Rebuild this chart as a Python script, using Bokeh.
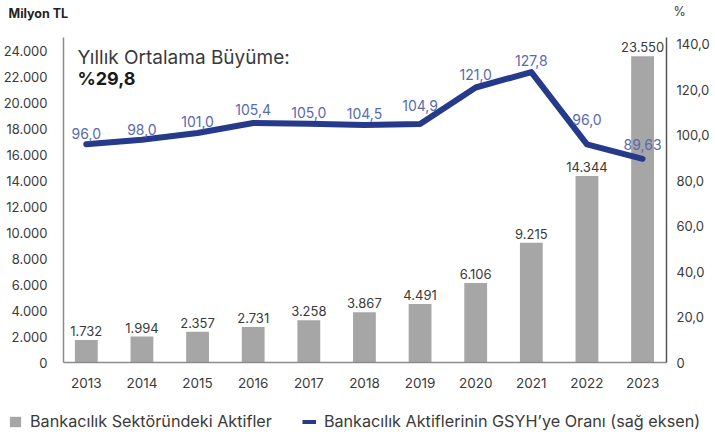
from bokeh.plotting import figure
from bokeh.layouts import column
from bokeh.models import (Range1d, LinearAxis, FixedTicker, Label, Legend, LegendItem,
                          ColumnDataSource)
from bokeh.core.properties import value
from bokeh.embed import file_html
from bokeh.resources import INLINE

# ---- data ----
years = [2013, 2014, 2015, 2016, 2017, 2018, 2019, 2020, 2021, 2022, 2023]
assets = [1732, 1994, 2357, 2731, 3258, 3867, 4491, 6106, 9215, 14344, 23550]
asset_labels = ["1.732", "1.994", "2.357", "2.731", "3.258", "3.867", "4.491",
                "6.106", "9.215", "14.344", "23.550"]
gdp_ratio = [96.0, 98.0, 101.0, 105.4, 105.0, 104.5, 104.9, 121.0, 127.8, 96.0, 89.63]
ratio_labels = ["96,0", "98,0", "101,0", "105,4", "105,0", "104,5", "104,9",
                "121,0", "127,8", "96,0", "89,63"]
left_ticks = list(range(0, 24001, 2000))
right_ticks = list(range(0, 141, 20))
series_names = ["Bankacılık Sektöründeki Aktifler",
                "Bankacılık Aktiflerinin GSYH’ye Oranı (sağ eksen)"]

# ---- styles ----
FONT = "Inter"
BAR_COLOR = "#a6a6a6"
LINE_COLOR = "#263a8c"
LINE_LABEL_COLOR = "#5a6ab0"
TEXT_COLOR = "#3a3a3a"
label_lift = [11, 10, 11, 13, 11, 12, 19, 13, 12, 25, 14]

def fmt_left(v):
    return "0" if v == 0 else f"{v:,}".replace(",", ".")

def fmt_right(v):
    return "0" if v == 0 else f"{v:.1f}".replace(".", ",")

def strip(h):
    f = figure(width=715, height=h, output_backend="svg", toolbar_location=None,
               x_range=Range1d(0, 1), y_range=Range1d(0, 1),
               x_axis_location=None, y_axis_location=None, frame_align=False,
               min_border_left=0, min_border_right=0, min_border_top=0, min_border_bottom=0)
    f.grid.visible = False
    f.outline_line_color = None
    return f

# ---- top strip (unit captions) ----
top = strip(24)
top.add_layout(Label(x=8, y=13, x_units="canvas", y_units="canvas", text="Milyon TL",
                     text_font=FONT, text_font_size="12.5px", text_font_style="bold",
                     text_color="#222222", text_baseline="middle"))
top.add_layout(Label(x=673, y=11, x_units="canvas", y_units="canvas", text="%",
                     text_font=FONT, text_font_size="12.5px", text_color=TEXT_COLOR,
                     text_baseline="middle"))

# ---- main chart ----
p = figure(width=715, height=386, output_backend="svg", toolbar_location=None,
           x_range=Range1d(2013 - 0.41, 2023 + 0.43), y_range=Range1d(0, 25000),
           frame_align=False,
           min_border_left=58, min_border_right=49, min_border_top=13, min_border_bottom=48)
p.outline_line_color = None
p.grid.visible = False
p.extra_y_ranges = {"pct": Range1d(0, 143)}

src = ColumnDataSource(dict(x=years, a=assets, al=asset_labels, r=gdp_ratio, rl=ratio_labels,
                            lift=[-v for v in label_lift]))

p.vbar(x="x", top="a", width=0.41, source=src, fill_color=BAR_COLOR, line_color=None)
p.text(x="x", y="a", text="al", source=src, text_align="center", text_baseline="middle",
       y_offset=-9, text_font=value(FONT), text_font_size="13px", text_color=TEXT_COLOR)
p.line(x="x", y="r", source=src, y_range_name="pct", line_color=LINE_COLOR,
       line_width=6, line_cap="round", line_join="round")
p.text(x="x", y="r", text="rl", source=src, y_range_name="pct", text_align="center",
       text_baseline="middle", y_offset="lift", text_font=value(FONT), text_font_size="14px",
       text_color=LINE_LABEL_COLOR)

xa = p.xaxis[0]
xa.ticker = FixedTicker(ticks=years)
xa.major_label_overrides = {y: str(y) for y in years}
ya = p.yaxis[0]
ya.ticker = FixedTicker(ticks=left_ticks)
ya.major_label_overrides = {t: fmt_left(t) for t in left_ticks}
ra = LinearAxis(y_range_name="pct", ticker=FixedTicker(ticks=right_ticks))
ra.major_label_overrides = {t: fmt_right(t) for t in right_ticks}
p.add_layout(ra, "right")

for ax in (xa, ya, ra):
    ax.major_tick_line_color = None
    ax.minor_tick_line_color = None
    ax.major_label_text_font = FONT
    ax.major_label_text_font_size = "13px"
    ax.major_label_text_color = TEXT_COLOR
    ax.axis_line_color = "#8c8c8c"
    ax.axis_line_width = 1.5
xa.major_label_text_font_size = "13.5px"
ra.axis_line_color = "#555555"
xa.major_label_standoff = 9
ya.major_label_standoff = 10
ra.major_label_standoff = 4

p.add_layout(Label(x=77, y=33, x_units="canvas", y_units="canvas",
                   text="Yıllık Ortalama Büyüme:", text_font=FONT, text_font_size="19px",
                   text_color=TEXT_COLOR, text_baseline="middle"))
p.add_layout(Label(x=77, y=54, x_units="canvas", y_units="canvas", text="%29,8",
                   text_font=FONT, text_font_size="18px", text_font_style="bold",
                   text_color="#1a1a1a", text_baseline="middle"))

# ---- legend strip ----
lg = strip(26)
r_bar = lg.vbar(x=years, top=assets, width=0.41, fill_color=BAR_COLOR, line_color=None,
                visible=False)
r_line = lg.line(x=years, y=gdp_ratio, line_color=LINE_COLOR, line_width=4, visible=False)
legend = Legend(items=[LegendItem(label=series_names[0], renderers=[r_bar]),
                       LegendItem(label=series_names[1], renderers=[r_line])],
                orientation="horizontal", location=(8, 5), padding=0, margin=0,
                spacing=30, glyph_width=14, glyph_height=13, label_height=13,
                label_standoff=8, label_text_font=FONT, label_text_font_size="16.2px",
                label_text_color=TEXT_COLOR, border_line_color=None,
                background_fill_alpha=0, inactive_fill_alpha=0)
lg.add_layout(legend, "center")

open("out.html", "w").write(file_html(column(top, p, lg), INLINE))
